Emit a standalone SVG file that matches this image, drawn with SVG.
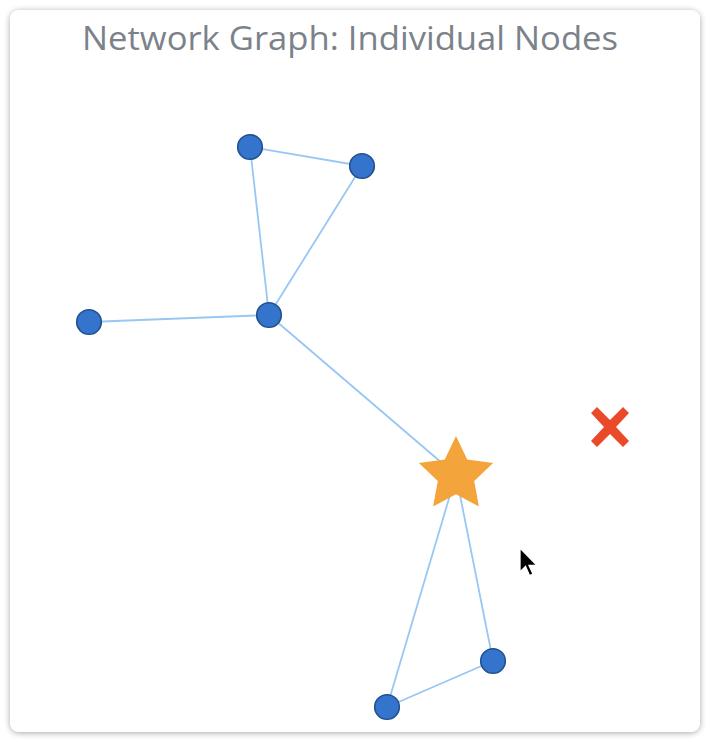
<svg xmlns="http://www.w3.org/2000/svg" width="710" height="742" viewBox="0 0 710 742">
<defs>
<filter id="sh" x="-5%" y="-5%" width="110%" height="110%">
<feGaussianBlur in="SourceAlpha" stdDeviation="3"/>
<feOffset dx="0" dy="1"/>
<feComponentTransfer><feFuncA type="linear" slope="0.35"/></feComponentTransfer>
<feMerge><feMergeNode/><feMergeNode in="SourceGraphic"/></feMerge>
</filter>
</defs>
<style>
.edge{stroke:#99c7f3;stroke-width:1.8;fill:none}
.node{fill:#3574cc;stroke:#21508f;stroke-width:1.6}
.title{font-family:"Open Sans","Liberation Sans",sans-serif;font-size:32px;fill:#7b828a}
</style>
<rect x="0" y="0" width="710" height="742" fill="#ffffff"/>
<rect x="10" y="10" width="690" height="722" rx="9" fill="#ffffff" filter="url(#sh)"/>
<text class="title" x="82" y="50" textLength="536" lengthAdjust="spacingAndGlyphs">Network Graph: Individual Nodes</text>
<g id="edges">
<line class="edge" x1="250" y1="147" x2="362" y2="166"/>
<line class="edge" x1="250" y1="147" x2="269" y2="315"/>
<line class="edge" x1="362" y1="166" x2="269" y2="315"/>
<line class="edge" x1="89" y1="322" x2="269" y2="315"/>
<line class="edge" x1="269" y1="315" x2="456" y2="475"/>
<line class="edge" x1="456" y1="475" x2="387" y2="707"/>
<line class="edge" x1="456" y1="475" x2="493" y2="661"/>
<line class="edge" x1="493" y1="661" x2="387" y2="707"/>
</g>
<g id="n1"><circle class="node" cx="250" cy="147" r="12.3"/></g>
<g id="n2"><circle class="node" cx="362" cy="166" r="12.3"/></g>
<g id="n3"><circle class="node" cx="269" cy="315" r="12.3"/></g>
<g id="n4"><circle class="node" cx="89" cy="322" r="12.3"/></g>
<g id="n5"><circle class="node" cx="493" cy="661" r="12.3"/></g>
<g id="n6"><circle class="node" cx="387" cy="707" r="12.3"/></g>
<g id="star"><polygon fill="#f3a43a" points="456,436 467.2,459.6 493.1,463.0 474.2,480.9 478.9,506.6 456,494.2 433.1,506.6 437.8,480.9 418.9,463.0 444.8,459.6"/></g>
<g id="cross"><polygon fill="#ea4a2a" points="591,413 597,407 610,420 623,407 629,413 616,427 629,441 623,447 610,434 597,447 591,441 604,427"/></g>
<g id="cursor"><polygon fill="#000" stroke="#fff" stroke-width="1.3" points="520,548 520,572 525.5,566.5 529.5,575.5 533,574 529,565.5 537,565.5"/></g>
</svg>
